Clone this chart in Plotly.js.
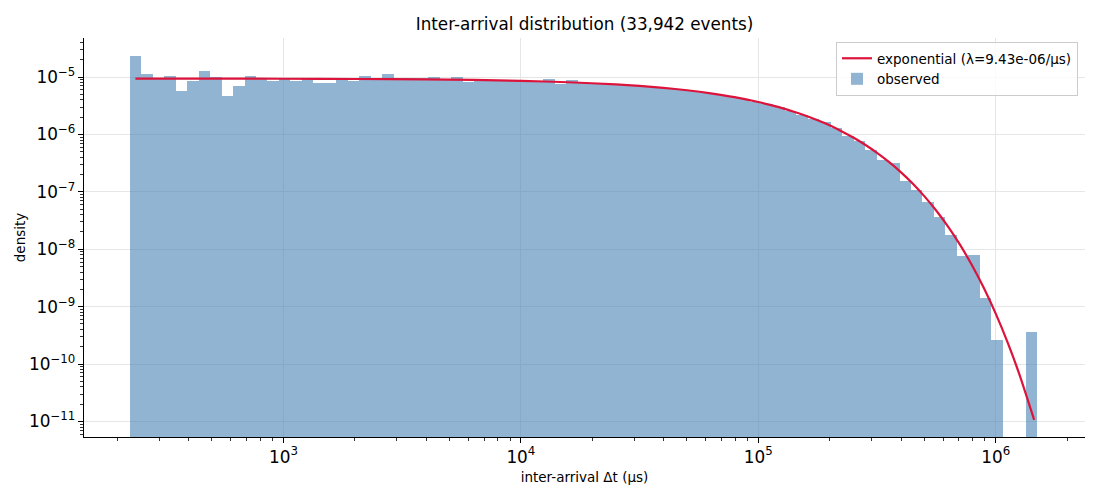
<!DOCTYPE html>
<html>
<head>
<meta charset="utf-8">
<script src="https://cdn.plot.ly/plotly-3.0.1.min.js"></script>
<style>
  html, body { margin: 0; padding: 0; background: #fff; }
  #chart { width: 1100px; height: 500px; }
</style>
</head>
<body>
<div id="chart"></div>
<script>
// histogram bins: 79 log-spaced bins between these edges (μs)
const edgeRange = [224.9, 1.498e6];
const binCount = 79;

// observed density per bin (null = empty bin)
const density = [
    2.3e-5, 1.13e-5, 9.8e-6, 1.04e-5, 5.8e-6, 8.6e-6, 1.27e-5, 9.9e-6, 4.7e-6, 7.06e-6,
    1.04e-5, 9.7e-6, 8.6e-6, 9.7e-6, 8.6e-6, 9.5e-6, 7.96e-6, 7.96e-6, 9.0e-6, 8.6e-6,
    1.04e-5, 9.6e-6, 1.13e-5, 9.6e-6, 9.5e-6, 9.8e-6, 9.9e-6, 9.4e-6, 1.0e-5, 8.1e-6,
    8.9e-6, 8.7e-6, 8.8e-6, 8.5e-6, 8.6e-6, 8.4e-6, 9.1e-6, 7.6e-6, 8.8e-6, 7.9e-6,
    7.8e-6, 7.6e-6, 7.4e-6, 7.2e-6, 6.9e-6, 6.7e-6, 6.45e-6, 6.15e-6, 5.85e-6, 5.55e-6,
    5.2e-6, 4.85e-6, 4.5e-6, 4.1e-6, 3.7e-6, 3.35e-6, 2.95e-6, 2.55e-6, 2.2e-6, 1.85e-6,
    1.63e-6, 1.28e-6, 9.5e-7, 7.6e-7, 5.4e-7, 3.6e-7, 3.24e-7, 1.57e-7, 1.08e-7, 6.7e-8,
    3.67e-8, 1.79e-8, 7.6e-9, 8.0e-9, 1.43e-9, 2.6e-10, null, null, 3.6e-10
];

// fitted exponential curve
const fitX = [
    238, 501, 1000, 1995, 3981, 6310, 10000, 15849, 25119, 31623,
    39811, 50119, 63096, 79433, 100000, 112202, 125893, 141254, 158489, 177828,
    199526, 223872, 251189, 281838, 316228, 354813, 398107, 446684, 501187, 562341,
    630957, 707946, 794328, 891251, 1000000, 1122018, 1258925, 1452112
];
const fitY = [
    9.41e-6, 9.38e-6, 9.34e-6, 9.25e-6, 9.08e-6, 8.89e-6, 8.58e-6, 8.12e-6, 7.44e-6, 7.00e-6,
    6.48e-6, 5.88e-6, 5.20e-6, 4.46e-6, 3.67e-6, 3.27e-6, 2.88e-6, 2.49e-6, 2.11e-6, 1.76e-6,
    1.44e-6, 1.14e-6, 8.83e-7, 6.61e-7, 4.78e-7, 3.32e-7, 2.21e-7, 1.40e-7, 8.35e-8, 4.69e-8,
    2.46e-8, 1.19e-8, 5.26e-9, 2.11e-9, 7.57e-10, 2.39e-10, 6.58e-11, 1.07e-11
];

const fitLabel = 'exponential (λ=9.43e-06/μs)';
const histLabel = 'observed';
const titleText = 'Inter-arrival distribution (33,942 events)';

// log-spaced bin edges
const lo = Math.log10(edgeRange[0]), hi = Math.log10(edgeRange[1]);
const edges = [];
for (let i = 0; i <= binCount; i++) edges.push(Math.pow(10, lo + (hi - lo) * i / binCount));
const binLeft = edges.slice(0, -1);
const binWidth = binLeft.map((e, i) => edges[i + 1] - e);

const font = 'DejaVu Sans, Liberation Sans, sans-serif';

const bars = {
    type: 'bar',
    x: binLeft,
    y: density,
    width: binWidth,
    offset: 0,
    name: histLabel,
    legendrank: 2,
    marker: { color: 'rgba(70,130,180,0.6)', line: { width: 0 } },
    hoverinfo: 'x+y'
};

const fit = {
    type: 'scatter',
    mode: 'lines',
    x: fitX,
    y: fitY,
    name: fitLabel,
    legendrank: 1,
    line: { color: '#dc143c', width: 2.2, shape: 'spline', smoothing: 0.6 }
};

const axisCommon = {
    type: 'log',
    showgrid: true,
    gridcolor: '#e6e6e6',
    gridwidth: 1,
    zeroline: false,
    showline: true,
    linecolor: '#000',
    linewidth: 1,
    mirror: false,
    ticks: 'outside',
    ticklen: 5,
    tickwidth: 1,
    tickcolor: '#000',
    dtick: 1,
    exponentformat: 'power',
    showexponent: 'all',
    tickfont: { family: font, size: 13.5, color: '#000' },
    minor: { dtick: 'D1', ticks: 'outside', ticklen: 3, tickwidth: 0.8, tickcolor: '#000', showgrid: false }
};

const layout = {
    width: 1100,
    height: 500,
    margin: { l: 84, r: 15, t: 38, b: 63 },
    paper_bgcolor: '#fff',
    plot_bgcolor: '#fff',
    font: { family: font, color: '#000' },
    bargap: 0,
    title: {
        text: titleText,
        font: { family: font, size: 16.8, color: '#000' },
        x: 0.5314, xref: 'container', xanchor: 'center',
        y: 0.951, yref: 'container', yanchor: 'middle'
    },
    xaxis: Object.assign({}, axisCommon, {
        range: [2.160, 6.376],
        title: { text: 'inter-arrival Δt (μs)', font: { family: font, size: 13.5 }, standoff: 6 }
    }),
    yaxis: Object.assign({}, axisCommon, {
        range: [-11.27, -4.32],
        title: { text: 'density', font: { family: font, size: 13.5 }, standoff: 0 }
    }),
    showlegend: true,
    legend: {
        x: 0.993, xanchor: 'right',
        y: 0.99, yanchor: 'top',
        bgcolor: 'rgba(255,255,255,0.8)',
        bordercolor: '#cccccc',
        borderwidth: 1,
        font: { family: font, size: 13.5, color: '#000' },
        itemwidth: 30
    }
};

Plotly.newPlot('chart', [bars, fit], layout, { displayModeBar: false, staticPlot: true });
</script>
</body>
</html>
